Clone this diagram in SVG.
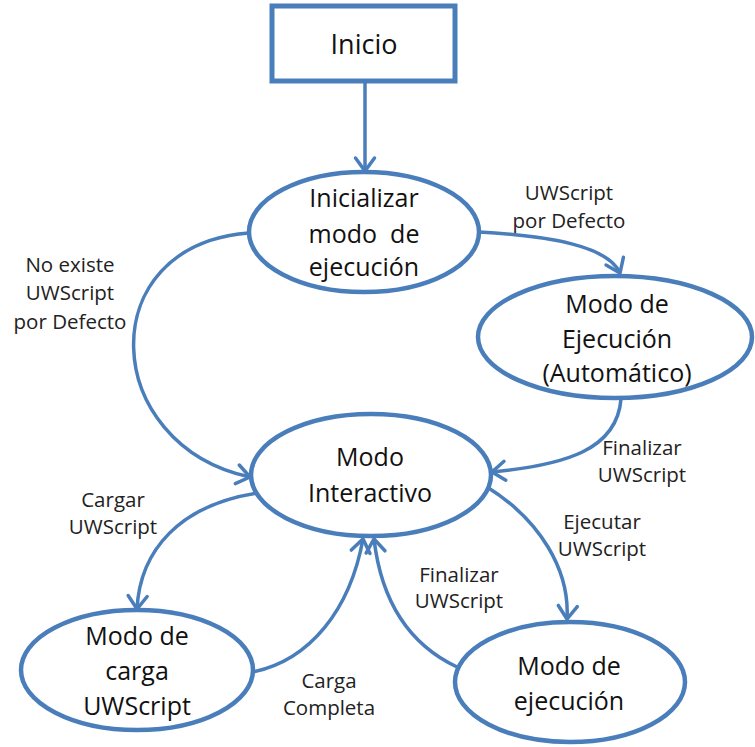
<svg xmlns="http://www.w3.org/2000/svg" width="755" height="747" viewBox="0 0 755 747">
<style>
.node{fill:#fff;stroke:#4a7ebb;stroke-width:4.5}
.nt{font-family:"Open Sans","Liberation Sans",sans-serif;font-size:25px;fill:#111;text-anchor:middle;white-space:pre}
.lt{font-family:"Open Sans","Liberation Sans",sans-serif;font-size:20.5px;fill:#222;text-anchor:middle}
.edge{fill:none;stroke:#4a7ebb;stroke-width:3.5;marker-end:url(#arr)}
</style>
<defs>
<marker id="arr" markerUnits="userSpaceOnUse" markerWidth="30" markerHeight="30" viewBox="-20 -15 30 30" refX="0" refY="0" orient="auto" overflow="visible">
<path d="M-13,-9.5 L0,0 L-13,9.5" fill="none" stroke="#4a7ebb" stroke-width="3.5" stroke-linecap="round"/>
</marker>
</defs>
<rect width="755" height="747" fill="#fff"/>
<g id="connectors">
<path class="edge" d="M365,82 L365,171"/>
<path class="edge" d="M479,232 C550,236 608,246 620,273"/>
<path class="edge" d="M249,233 C90,245 100,445 250,477"/>
<path class="edge" d="M621,399 C617,450 565,465 492,472"/>
<path class="edge" d="M257,493 C180,505 140,550 137,609"/>
<path class="edge" d="M253,672 C310,660 350,610 363,539"/>
<path class="edge" d="M487,487 C540,520 570,570 567,619"/>
<path class="edge" d="M457,667 C400,640 380,590 374,539"/>
</g>
<g id="inicio">
<rect class="node" x="272" y="6" width="183" height="75" style="stroke-width:5"/>
<text class="nt" x="364" y="54" style="font-size:27px">Inicio</text>
</g>
<g id="inicializar">
<ellipse class="node" cx="364" cy="232" rx="115" ry="60"/>
<text class="nt" x="364" y="207">Inicializar</text>
<text class="nt" x="364" y="243">modo  de</text>
<text class="nt" x="364" y="276">ejecución</text>
</g>
<g id="automatico">
<ellipse class="node" cx="615" cy="337" rx="137" ry="61"/>
<text class="nt" x="617" y="313">Modo de</text>
<text class="nt" x="617" y="348">Ejecución</text>
<text class="nt" x="617" y="382">(Automático)</text>
</g>
<g id="interactivo">
<ellipse class="node" cx="371" cy="475" rx="120" ry="61"/>
<text class="nt" x="370" y="466">Modo</text>
<text class="nt" x="370" y="502">Interactivo</text>
</g>
<g id="carga">
<ellipse class="node" cx="137" cy="670" rx="116" ry="60"/>
<text class="nt" x="137" y="645">Modo de</text>
<text class="nt" x="137" y="680">carga</text>
<text class="nt" x="137" y="715">UWScript</text>
</g>
<g id="ejecucion">
<ellipse class="node" cx="570" cy="682" rx="115" ry="60"/>
<text class="nt" x="569" y="675">Modo de</text>
<text class="nt" x="569" y="710">ejecución</text>
</g>
<g id="labels">
<text class="lt" x="569" y="200">UWScript</text>
<text class="lt" x="569" y="228">por Defecto</text>
<text class="lt" x="70" y="272">No existe</text>
<text class="lt" x="70" y="300">UWScript</text>
<text class="lt" x="70" y="329">por Defecto</text>
<text class="lt" x="642" y="455">Finalizar</text>
<text class="lt" x="642" y="482">UWScript</text>
<text class="lt" x="113" y="507">Cargar</text>
<text class="lt" x="113" y="534">UWScript</text>
<text class="lt" x="602" y="529">Ejecutar</text>
<text class="lt" x="602" y="556">UWScript</text>
<text class="lt" x="459" y="582">Finalizar</text>
<text class="lt" x="459" y="608">UWScript</text>
<text class="lt" x="329" y="688">Carga</text>
<text class="lt" x="329" y="715">Completa</text>
</g>
</svg>
